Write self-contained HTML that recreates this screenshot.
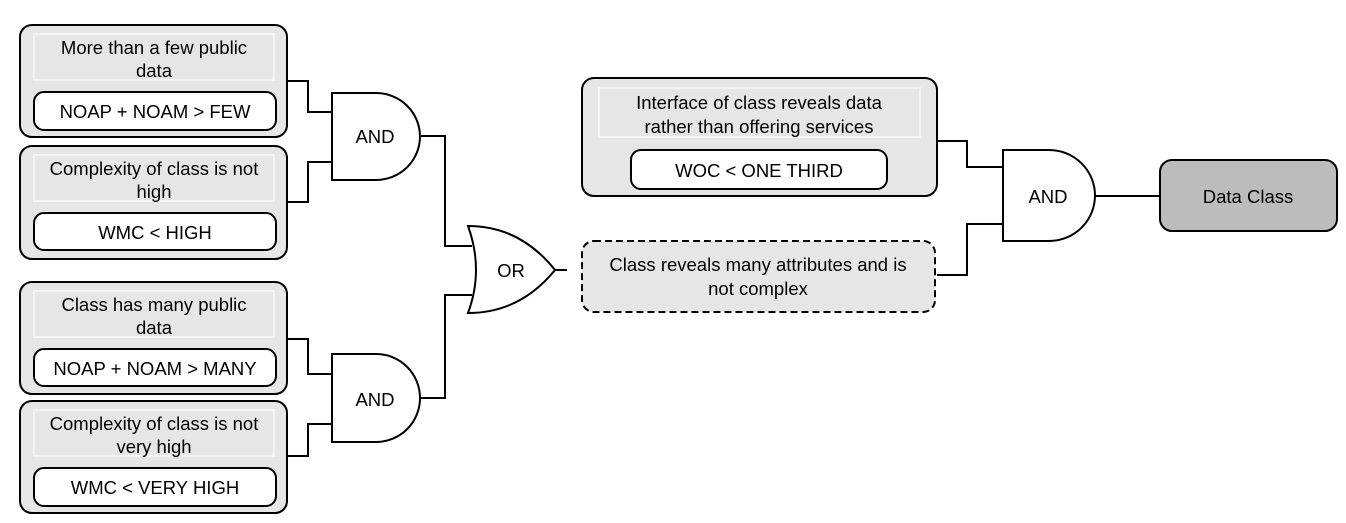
<!DOCTYPE html>
<html><head><style>html,body{margin:0;padding:0;background:#fff}svg{display:block}</style></head><body>
<svg width="1346" height="523" viewBox="0 0 1346 523" xmlns="http://www.w3.org/2000/svg" font-family="Liberation Sans, sans-serif" font-size="18.5" text-anchor="middle">
<g stroke="#000" stroke-width="2" fill="none">
<polyline points="287,81 308,81 308,112 332,112"/>
<polyline points="287,202 308,202 308,162 332,162"/>
<polyline points="420,136 445,136 445,246 472,246"/>
<polyline points="287,339 308,339 308,374 332,374"/>
<polyline points="287,456 308,456 308,424 332,424"/>
<polyline points="420,398 445,398 445,295 472,295"/>
<line x1="555" y1="270" x2="567" y2="270"/>
<polyline points="937,141 967,141 967,167 1003,167"/>
<polyline points="937,275 967,275 967,224 1003,224"/>
<line x1="1095" y1="196" x2="1160" y2="196"/>
</g>
<g stroke="#000" stroke-width="2">
<rect x="20" y="25" width="267" height="112" rx="12" fill="#e6e6e6"/>
<rect x="20" y="146" width="267" height="113" rx="12" fill="#e6e6e6"/>
<rect x="20" y="282" width="267" height="112" rx="12" fill="#e6e6e6"/>
<rect x="20" y="401" width="267" height="112" rx="12" fill="#e6e6e6"/>
<rect x="582" y="78" width="355" height="118" rx="12" fill="#e6e6e6"/>
<rect x="582" y="241" width="353" height="71" rx="12" fill="#e6e6e6" stroke-dasharray="7,4"/>
<rect x="1160" y="160" width="177" height="71" rx="12" fill="#bcbcbc"/>
</g>
<g stroke="#f4f4f4" stroke-width="2" fill="none">
<rect x="34" y="34" width="240" height="46"/>
<rect x="34" y="155" width="240" height="46"/>
<rect x="34" y="291" width="240" height="46"/>
<rect x="34" y="410" width="240" height="46"/>
<rect x="599" y="88" width="321" height="49"/>
</g>
<g stroke="#000" stroke-width="2" fill="#fff">
<rect x="34" y="92" width="242" height="38" rx="10"/>
<rect x="34" y="213" width="242" height="37" rx="10"/>
<rect x="34" y="349" width="242" height="37" rx="10"/>
<rect x="34" y="468" width="242" height="38" rx="10"/>
<rect x="631" y="150" width="256" height="39" rx="10"/>
<path d="M332,93 H376 A44,43.5 0 0 1 376,180 H332 Z"/>
<path d="M332,354 H376 A44,44 0 0 1 376,442 H332 Z"/>
<path d="M1003,150 H1049 A46,45.5 0 0 1 1049,241 H1003 Z"/>
<path d="M468,226 Q520,226 555,270 Q520,313 468,313 Q484,270 468,226 Z"/>
</g>
<g fill="#000">
<text x="154" y="54">More than a few public</text><text x="154" y="77">data</text>
<text x="155" y="118">NOAP + NOAM &gt; FEW</text>
<text x="154" y="175">Complexity of class is not</text><text x="154" y="198">high</text>
<text x="155" y="239">WMC &lt; HIGH</text>
<text x="154" y="311">Class has many public</text><text x="154" y="334">data</text>
<text x="155" y="375">NOAP + NOAM &gt; MANY</text>
<text x="154" y="430">Complexity of class is not</text><text x="154" y="453">very high</text>
<text x="155" y="494">WMC &lt; VERY HIGH</text>
<text x="759" y="109">Interface of class reveals data</text><text x="759" y="133">rather than offering services</text>
<text x="759" y="177">WOC &lt; ONE THIRD</text>
<text x="758" y="271">Class reveals many attributes and is</text><text x="758" y="295">not complex</text>
<text x="375" y="143">AND</text>
<text x="375" y="406">AND</text>
<text x="1048" y="203">AND</text>
<text x="511" y="277">OR</text>
<text x="1248" y="203">Data Class</text>
</g>
</svg>
</body></html>
